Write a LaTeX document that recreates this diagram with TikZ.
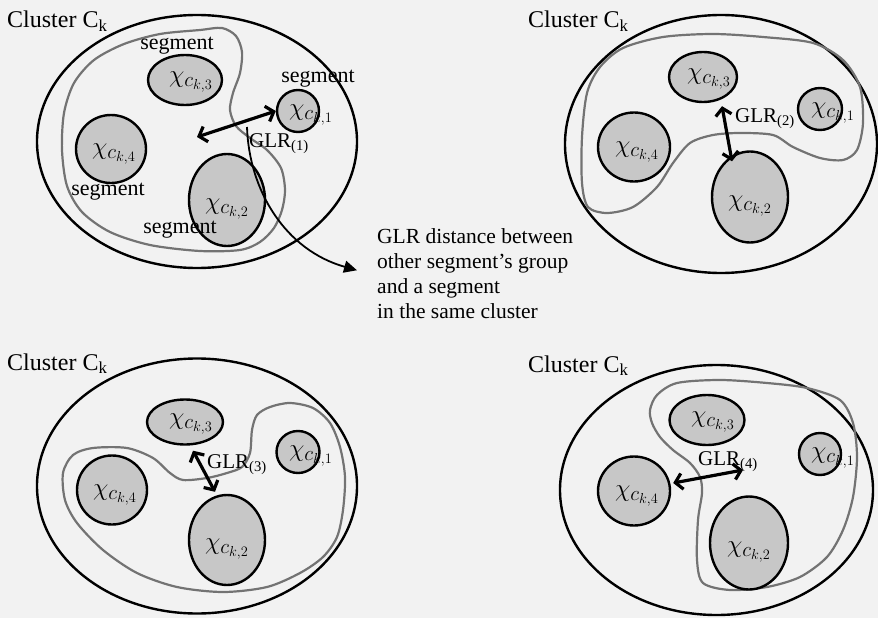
\documentclass[tikz,border=0pt]{standalone}
\usepackage{fontspec}
\setmainfont{Liberation Serif}
\usetikzlibrary{shapes.geometric,arrows.meta}
\begin{document}
\begin{tikzpicture}[x=1pt,y=-1pt,
  outerclu/.style={ellipse,draw=black,line width=2.4pt,inner sep=0pt},
  blob/.style={ellipse,draw=black,line width=2.4pt,fill=black!22,inner sep=0pt},
  grouping/.style={draw=black!55,line width=2.2pt},
  glrarrow/.style={line width=3.2pt,{Straight Barb[length=7pt,width=16pt]}-{Straight Barb[length=7pt,width=16pt]}},
  clab/.style={font=\fontsize{24}{28}\selectfont,inner sep=0pt,anchor=base west},
  seglab/.style={font=\fontsize{22}{26}\selectfont,inner sep=0pt},
  glrlab/.style={font=\fontsize{21}{25}\selectfont,inner sep=0pt,anchor=base west},
  xlab/.style={font=\fontsize{28}{32}\selectfont,inner sep=0pt},
]
\fill[black!5] (0,0) rectangle (878,618);
\useasboundingbox (0,0) rectangle (878,618);

% ---------- outer clusters
\node[outerclu,minimum width=320pt,minimum height=253pt] (K1) at (197,141.5) {};
\node[outerclu,minimum width=312pt,minimum height=258pt] (K2) at (721,144) {};
\node[outerclu,minimum width=320pt,minimum height=255pt] (K3) at (197,486) {};
\node[outerclu,minimum width=313pt,minimum height=250pt] (K4) at (716.5,490) {};

\node[clab] (k1) at (7,28) {Cluster C\textsubscript{k}};
\node[clab] (k2) at (528,28) {Cluster C\textsubscript{k}};
\node[clab] (k3) at (7,370) {Cluster C\textsubscript{k}};
\node[clab] (k4) at (528,372) {Cluster C\textsubscript{k}};

% ---------- grouping curves
\draw[grouping] plot[smooth cycle] coordinates {(200,30) (222,28) (236,36) (242,52) (240,73) (233,93) (230,110) (236,126) (250,138) (267,150) (281,168) (285,190) (282,210) (274,228) (260,242) (240,250) (200,251) (150,245) (110,232) (82,212) (67,186) (62,150) (64,113) (74,83) (94,60) (124,44) (160,34)};
\draw[grouping] plot[smooth cycle] coordinates {(587,93) (600,67) (623,48) (663,37) (713,34) (763,37) (813,43) (843,60) (860,87) (863,123) (857,150) (843,160) (820,158) (793,147) (773,135) (740,133) (713,135) (690,143) (673,163) (657,187) (633,207) (607,213) (588,207) (582,183) (582,137)};
\draw[grouping] plot[smooth cycle] coordinates {(63,473) (73,455) (93,448) (127,448) (153,458) (170,473) (183,480) (207,478) (227,473) (242,467) (250,453) (252,430) (257,415) (270,407) (290,403) (313,408) (330,423) (340,447) (345,477) (343,510) (337,537) (323,557) (300,573) (267,587) (223,592) (177,587) (137,573) (103,550) (77,523) (65,500)};
\draw[grouping] plot[smooth cycle] coordinates {(650,410) (657,395) (677,383) (720,380) (767,383) (807,388) (840,400) (853,423) (857,457) (853,497) (843,530) (827,557) (800,577) (767,587) (730,590) (703,583) (697,560) (698,520) (702,493) (700,477) (690,463) (673,450) (660,437) (652,423)};

% ---------- segments, panel 1
\node[blob,minimum width=74pt,minimum height=50pt] (a3) at (185,80) {};
\node[blob,minimum width=42pt,minimum height=42pt] (a1) at (298,111) {};
\node[blob,minimum width=70pt,minimum height=68pt] (a4) at (111,149) {};
\node[blob,minimum width=76pt,minimum height=92pt] (a2) at (227,200) {};
% panel 2
\node[blob,minimum width=68pt,minimum height=50pt] (b3) at (703,77) {};
\node[blob,minimum width=44pt,minimum height=42pt] (b1) at (820,109) {};
\node[blob,minimum width=72pt,minimum height=69pt] (b4) at (634,147) {};
\node[blob,minimum width=76pt,minimum height=91pt] (b2) at (750,197) {};
% panel 3
\node[blob,minimum width=76pt,minimum height=45pt] (c3) at (185,422) {};
\node[blob,minimum width=43pt,minimum height=42pt] (c1) at (298,452) {};
\node[blob,minimum width=70pt,minimum height=69pt] (c4) at (112,490) {};
\node[blob,minimum width=76pt,minimum height=90pt] (c2) at (227,540) {};
% panel 4
\node[blob,minimum width=75pt,minimum height=50pt] (d3) at (707,420) {};
\node[blob,minimum width=42pt,minimum height=42pt] (d1) at (820,454) {};
\node[blob,minimum width=72pt,minimum height=69pt] (d4) at (634,491) {};
\node[blob,minimum width=78pt,minimum height=93pt] (d2) at (749,543) {};

% ---------- segment labels
\foreach \p in {a,b,c,d}{
  \node[xlab] (\p l3) at ([shift={(6,2)}]\p3.center) {$\chi_{c_{k,3}}$};
  \node[xlab] (\p l1) at ([shift={(13,4)}]\p1.center) {$\chi_{c_{k,1}}$};
  \node[xlab] (\p l4) at ([shift={(3,5)}]\p4.center) {$\chi_{c_{k,4}}$};
  \node[xlab] (\p l2) at ([shift={(0,9)}]\p2.center) {$\chi_{c_{k,2}}$};
}

\node[seglab] (s3) at (177,46) {segment};
\node[seglab] (s1) at (318,79) {segment};
\node[seglab] (s4) at (108,192) {segment};
\node[seglab] (s2) at (180,230) {segment};

% ---------- GLR arrows
\coordinate (q1) at (197,137);
\draw[glrarrow] (q1) -- (a1.west);
\node[glrlab] (g1) at (249,147) {GLR\textsubscript{(1)}};

\draw[glrarrow] ([shift={(19,3)}]b3.south) -- ([shift={(-18,11)}]b2.north);
\node[glrlab] (g2) at (735,122) {GLR\textsubscript{(2)}};

\draw[glrarrow] ([shift={(8,5)}]c3.south) -- ([shift={(-12,-2)}]c2.north);
\node[glrlab] (g3) at (207,468) {GLR\textsubscript{(3)}};

\coordinate (q4) at (743,470);
\draw[glrarrow] ([shift={(2,-8)}]d4.east) -- (q4);
\node[glrlab] (g4) at (698,465) {GLR\textsubscript{(4)}};

% ---------- annotation
\node[font=\fontsize{21.5}{25}\selectfont,align=left,anchor=north west,inner sep=0pt] (note) at (377,228)
  {GLR distance between\\other segment’s group\\and a segment\\in the same cluster};
\coordinate (s0) at (247,127);
\coordinate (cc1) at (249,190);
\coordinate (cc2) at (285,250);
\draw[line width=1.8pt,-{Triangle[length=13pt,width=12pt]}] (s0) .. controls (cc1) and (cc2) .. ([xshift=-20pt,yshift=3pt]note.west);
\end{tikzpicture}
\end{document}
